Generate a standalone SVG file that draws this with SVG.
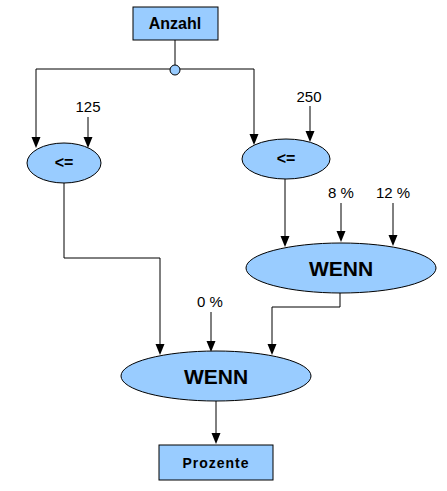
<svg xmlns="http://www.w3.org/2000/svg" width="447" height="491" viewBox="0 0 447 491">
<style>
.n{fill:#99ccff;stroke:#000;stroke-width:1}
.c{fill:none;stroke:#000;stroke-width:1}
.t{font-family:"Liberation Sans",Arial,sans-serif;text-anchor:middle;fill:#000}
.b{font-weight:bold}
.l{font-size:15px}
</style>
<rect width="447" height="491" fill="#fff"/>
<g id="connectors">
<line class="c" x1="175" y1="40" x2="175" y2="65"/>
<polyline class="c" points="36,69 254,69"/>
<line class="c" x1="36" y1="69" x2="36" y2="138"/>
<path d="M31.5,137 L40.5,137 L36,148 Z"/>
<line class="c" x1="88" y1="117" x2="88" y2="138"/>
<path d="M83.5,137 L92.5,137 L88,148 Z"/>
<line class="c" x1="254" y1="69" x2="254" y2="135"/>
<path d="M249.5,134 L258.5,134 L254,145 Z"/>
<line class="c" x1="310" y1="106" x2="310" y2="132"/>
<path d="M305.5,131 L314.5,131 L310,142 Z"/>
<line class="c" x1="285" y1="179" x2="285" y2="237"/>
<path d="M280.5,236 L289.5,236 L285,247 Z"/>
<line class="c" x1="341" y1="203" x2="341" y2="232"/>
<path d="M336.5,231 L345.5,231 L341,242 Z"/>
<line class="c" x1="393" y1="203" x2="393" y2="236"/>
<path d="M388.5,235 L397.5,235 L393,246 Z"/>
<polyline class="c" points="64,183 64,258 160,258 160,345"/>
<path d="M155.5,344 L164.5,344 L160,355 Z"/>
<line class="c" x1="211" y1="312" x2="211" y2="342"/>
<path d="M206.5,341 L215.5,341 L211,352 Z"/>
<polyline class="c" points="340,293 340,307 272,307 272,345"/>
<path d="M267.5,344 L276.5,344 L272,355 Z"/>
<line class="c" x1="216" y1="401" x2="216" y2="434"/>
<path d="M211.5,433 L220.5,433 L216,444 Z"/>
</g>
<g id="anzahl">
<rect class="n" x="133" y="7" width="85" height="33"/>
<text class="t b" x="175" y="29" font-size="16">Anzahl</text>
</g>
<g id="junction">
<circle class="n" cx="175" cy="70" r="5"/>
</g>
<g id="l125"><text class="t l" x="88" y="112">125</text></g>
<g id="l250"><text class="t l" x="309" y="102">250</text></g>
<g id="le1">
<ellipse class="n" cx="64" cy="163" rx="37" ry="20"/>
<text class="t b" x="64" y="168" font-size="16">&lt;=</text>
</g>
<g id="le2">
<ellipse class="n" cx="286" cy="159" rx="44" ry="20"/>
<text class="t b" x="286" y="164" font-size="16">&lt;=</text>
</g>
<g id="l8"><text class="t l" x="341" y="198">8 %</text></g>
<g id="l12"><text class="t l" x="393" y="198">12 %</text></g>
<g id="wenn1">
<ellipse class="n" cx="341" cy="268" rx="95" ry="25"/>
<text class="t b" x="341" y="276" font-size="21">WENN</text>
</g>
<g id="l0"><text class="t l" x="210" y="307">0 %</text></g>
<g id="wenn2">
<ellipse class="n" cx="216" cy="376" rx="95" ry="25"/>
<text class="t b" x="216" y="384" font-size="21">WENN</text>
</g>
<g id="prozente">
<rect class="n" x="159" y="445" width="114" height="35"/>
<text class="t b" x="216" y="468" font-size="14" letter-spacing="1">Prozente</text>
</g>
</svg>
